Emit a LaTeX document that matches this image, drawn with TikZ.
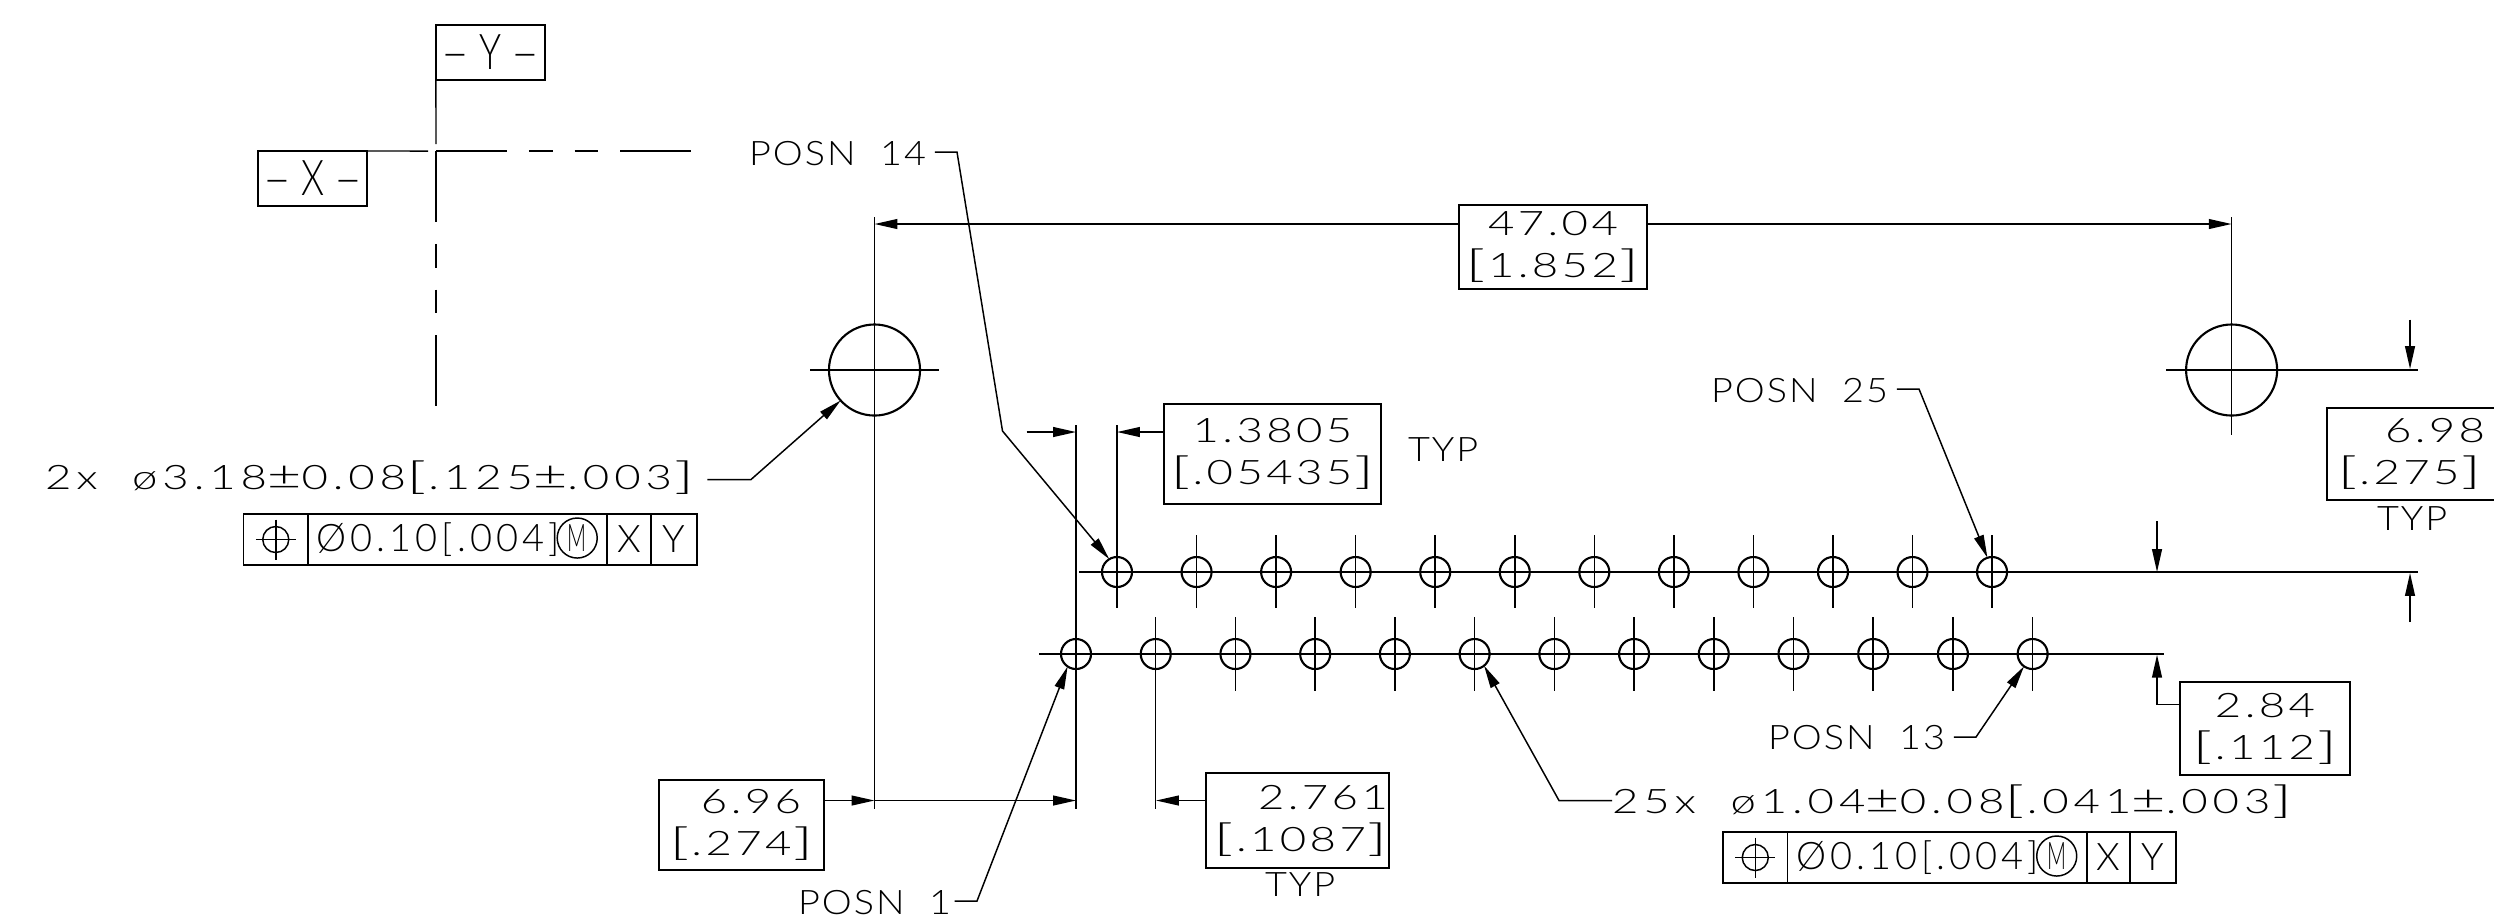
\documentclass[tikz,border=0pt]{standalone}
\usepackage{fontspec}
\setmainfont{Lato Light}[FakeStretch=1.35,LetterSpace=10]
\newfontfamily\capsfont[FakeStretch=1.12,LetterSpace=6]{Lato Light}
\newfontfamily\widefont[FakeStretch=1.35,LetterSpace=14.5]{Lato Light}
\newfontfamily\cellfont[LetterSpace=10.5]{Lato Light}
\newfontfamily\datumfont[FakeStretch=0.75]{Lato Light}
\newcommand\lbk{\scalebox{1.5}[1.12]{[}\hspace{0.02cm}}
\newcommand\rbk{\hspace{0.02cm}\scalebox{1.5}[1.12]{]}}
\newcommand\pmk{\scalebox{1.3}[1.2]{±}}
\newcommand\dtmdash{\scalebox{1.3}[1]{–}}
\usetikzlibrary{
  arrows.meta,
  calc,
  positioning,
}
\tikzset{
  >={Triangle[length=6.5pt,width=2.8pt]},
  dim/.style={line width=0.42pt},
  leader/.style={dim, ->},
  axisline/.style={dim, dash pattern=on 20.2pt off 6.2pt on 6.8pt off 6.2pt on 6.8pt off 6.2pt on 20.2pt},
  note/.style={font=\fontsize{9.6}{12}\selectfont\widefont, inner sep=0pt, outer sep=0pt, anchor=base west},
  capnote/.style={note, font=\fontsize{9.6}{12}\selectfont\capsfont},
  frame/.style={draw, line width=0.55pt, inner sep=0pt, outer sep=0pt, align=center,
                font=\fontsize{9.6}{12}\selectfont},
  datum/.style={draw, line width=0.55pt, inner sep=0pt, outer sep=0pt, minimum width=1.09cm,
                minimum height=0.55cm, font=\fontsize{14}{16}\selectfont\datumfont},
  cell/.style={draw, line width=0.5pt, inner sep=0pt, outer sep=0pt, minimum height=0.51cm,
               font=\fontsize{10.8}{12}\selectfont\cellfont},
  hole/.style={draw, circle, line width=0.6pt, inner sep=0pt, outer sep=0pt, minimum size=0.30cm},
  boss/.style={draw, circle, line width=0.6pt, inner sep=0pt, outer sep=0pt, minimum size=0.91cm},
  symb/.style={draw, circle, line width=0.42pt, inner sep=0pt, outer sep=0pt, minimum size=0.26cm},
  matl/.style={draw, circle, line width=0.42pt, inner sep=0pt, outer sep=0pt, minimum size=0.40cm,
               font=\fontsize{10.8}{12}\selectfont\cellfont},
}

\begin{document}
\begin{tikzpicture}[x=0.01cm, y=-0.01cm]
  \useasboundingbox (0,0) rectangle (2494,920);

  \node [datum] (ydatum) at (490.5,52.5) {\dtmdash\hspace{0.1cm}Y\hspace{0.1cm}\dtmdash};
  \node [datum] (xdatum) at (312.5,178.5) {\dtmdash\hspace{0.1cm}X\hspace{0.1cm}\dtmdash};
  \coordinate (origin) at (436,151);
  \coordinate (xend) at (693,151);
  \coordinate (yend) at (436,407);
  \draw [dim] (ydatum.south west) -- ($(origin)+(0,-7)$);
  \draw [dim] (xdatum.north east) -- ($(origin)+(-8,0)$);
  \draw [axisline] (origin) -- (xend);
  \draw [axisline] (origin) -- (yend);

  \node [boss] (bossl) at (874.5,370) {};
  \node [boss] (bossr) at (2231.6,370) {};
  \draw [dim] ($(bossl)+(-64.5,0)$) -- ($(bossl)+(64.5,0)$);
  \draw [dim] ($(bossl)+(0,-153)$) -- ($(bossl)+(0,439)$);
  \draw [dim] ($(bossr)+(-65.5,0)$) -- ($(bossr)+(186,0)$);
  \draw [dim] ($(bossr)+(0,-153)$) -- ($(bossr)+(0,65)$);

  \foreach \i in {1,...,12} {
    \node [hole] (t\i) at ({1117+(\i-1)*79.55},572) {};
    \draw [dim] ($(t\i)+(0,-37)$) -- ($(t\i)+(0,36)$);
  }
  \foreach \i in {1,...,13} {
    \node [hole] (b\i) at ({1076+(\i-1)*79.72},654) {};
    \draw [dim] ($(b\i)+(0,-37)$) -- ($(b\i)+(0,37)$);
  }
  \draw [dim] (1079,572) -- (2417.5,572);
  \draw [dim] (1039,654) -- (2164,654);
  \draw [dim] ($(t1)+(0,-147)$) -- (t1);
  \draw [dim] ($(b1)+(0,-229)$) -- ($(b1)+(0,155)$);
  \draw [dim] (b2) -- ($(b2)+(0,155)$);

  \node [frame, minimum width=1.88cm, minimum height=0.84cm] (span) at (1553,247)
        {47.04\\\lbk1.852\rbk};
  \coordinate (spanl) at (874.5,224);
  \coordinate (spanr) at (2231.6,224);
  \draw [dim, <-] (spanl) -- (spanl -| span.west);
  \draw [dim, <-] (spanr) -- (spanr -| span.east);

  \node [frame, minimum width=2.17cm, minimum height=1.00cm] (pitch) at (1272.5,454)
        {1.3805\\\lbk.05435\rbk};
  \coordinate (pitchl) at (1026.5,432);
  \coordinate (pitchk) at (1076,432);
  \coordinate (pitchr) at (1117,432);
  \draw [dim, ->] (pitchl) -- (pitchk);
  \draw [dim, <-] (pitchr) -- (pitchr -| pitch.west);
  \node [capnote] (typa) at (1408,461) {TYP};

  \node [frame, minimum width=1.65cm, minimum height=0.90cm] (edge) at (741.5,825)
        {\hspace*{0.19cm}6.96\\\lbk.274\rbk};
  \coordinate (edgel) at (874.5,800.5);
  \coordinate (edger) at (1076,800.5);
  \draw [dim, ->] (edge.east |- edgel) -- (edgel);
  \draw [dim, ->] (edgel) -- (edger);

  \node [frame, minimum width=1.83cm, minimum height=0.95cm] (stagger) at (1297.5,820.5)
        {\hspace*{0.51cm}2.761\\\hspace*{0.07cm}\lbk.1087\rbk};
  \coordinate (staggerk) at (1156,800.5);
  \draw [dim, <-] (staggerk) -- (staggerk -| stagger.west);
  \node [capnote] (typb) at (1265,896.5) {TYP};

  \node [frame, minimum width=1.70cm, minimum height=0.93cm] (rows) at (2265,728.5)
        {2.84\\\lbk.112\rbk};
  \coordinate (rowsa) at (2157,521);
  \coordinate (rowsb) at (2157,572);
  \coordinate (rowsc) at (2157,654.7);
  \draw [dim, ->] (rowsa) -- (rowsb);
  \draw [dim, ->] (rows.west |- 0,704.5) -| (rowsc);

  \node [frame, minimum width=1.73cm, minimum height=0.92cm] (height) at (2413.5,454)
        {\hspace*{0.43cm}6.98\\\lbk.275\rbk\hspace*{0.08cm}};
  \coordinate (heighta) at (2410,319.6);
  \coordinate (heightb) at (2410,369);
  \coordinate (heightc) at (2410,622);
  \coordinate (heightd) at (2410,573);
  \draw [dim, ->] (heighta) -- (heightb);
  \draw [dim, ->] (heightc) -- (heightd);
  \node [capnote] (typc) at (2377,530) {TYP};

  \node [capnote] (posna) at (798,914) {POSN~~1};
  \node [capnote] (posnb) at (1768,749.5) {POSN~~13};
  \node [capnote] (posnc) at (749,165) {POSN~~14};
  \node [capnote] (posnd) at (1711,402) {POSN~~25};
  \coordinate (posnak) at (977,901);
  \coordinate (posnbk) at (1976,737);
  \coordinate (posnck) at (957,152);
  \coordinate (posnckk) at (1002.5,431);
  \coordinate (posndk) at (1919,389);
  \draw [leader, shorten <=1pt] (posna.east |- posnak) -- (posnak) -- (b1.236);
  \draw [leader, shorten <=2.5pt] (posnb.east |- posnbk) -- (posnbk) -- (b13.235);
  \draw [leader, shorten <=2.5pt] (posnc.east |- posnck) -- (posnck) -- (posnckk) -- (t1.121);
  \draw [leader, shorten <=2.5pt] (posnd.east |- posndk) -- (posndk) -- (t12.108);

  \node [note] (notea) at (45,489.5) {2x~~ø3.18\pmk0.08\lbk.125\pmk.003\rbk};
  \node [note] (noteb) at (1612,813) {25x~~ø1.04\pmk0.08\lbk.041\pmk.003\rbk};
  \coordinate (noteak) at (751,479.5);
  \coordinate (notebk) at (1559,800.5);
  \draw [leader, shorten <=3.7pt] (notea.east |- noteak) -- (noteak) -- (bossl.222);
  \draw [leader] (noteb.west |- notebk) -- (notebk) -- (b6.309);

  \foreach \n/\px/\py in {1/243.5/514, 2/1723/832} {
    \node [cell, minimum width=0.645cm, anchor=north west] (a\n) at (\px,\py) {};
    \node [cell, minimum width=2.99cm, right=0pt of a\n]
          (c\n) {Ø0.10[.004]\hspace*{0.39cm}};
    \node [cell, minimum width=0.435cm, right=0pt of c\n] (x\n) {X};
    \node [cell, minimum width=0.46cm, right=0pt of x\n] (y\n) {Y};
    \node [symb] (s\n) at (a\n) {};
    \draw [dim] ($(s\n)+(-20,0)$) -- ($(s\n)+(20,0)$);
    \draw [dim] ($(s\n)+(0,-20)$) -- ($(s\n)+(0,20)$);
    \node [matl] (m\n) at ($(c\n.east)+(-30,-1.5)$) {\scalebox{0.55}[1]{M}};
  }
\end{tikzpicture}
\end{document}
